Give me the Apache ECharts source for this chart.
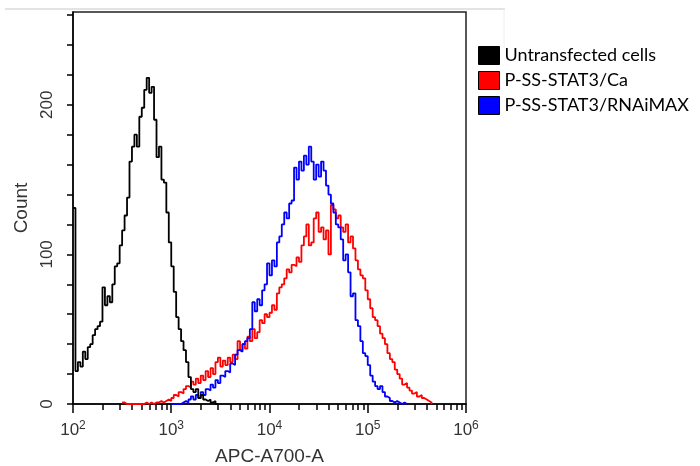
<!DOCTYPE html>
<html><head><meta charset="utf-8">
<script src="https://cdn.jsdelivr.net/npm/echarts@6/dist/echarts.min.js"></script>
<style>html,body{margin:0;padding:0;background:#fff}#c{width:700px;height:466px}</style>
</head><body><div id="c"></div>
<script>
// histogram bins: width in decades, start exponent of first bin, counts
const binStep = 0.025;
const blackStart = 2.0;
const blackCounts = [131,22,28,25,35,30,38,40,46,50,52,55,78,66,72,68,80,92,94,106,116,126,138,162,172,180,172,192,198,210,218,208,212,190,165,172,150,148,128,108,92,75,58,50,42,36,28,18,10,8,10,4,6,3,2,3,1,2,0,0];
const redStart = 2.5;
const redCounts = [1,0,0,0,0,0,0,0,0,1,0,1,0,1,1,2,1,2,3,2,4,6,5,8,7,10,12,11,15,13,17,14,19,16,22,18,24,20,28,31,25,29,26,31,28,33,30,42,36,40,37,45,42,50,44,48,56,54,60,58,61,66,63,74,78,80,84,90,88,93,92,98,95,106,112,120,106,108,124,128,115,118,110,116,100,133,130,124,126,118,115,120,108,112,104,96,90,86,84,76,70,64,58,56,52,47,44,40,34,30,28,23,20,17,13,14,11,9,7,8,5,6,4,3,2,1,0];
const blueStart = 3.0;
const blueCounts = [0,0,0,0,1,2,1,3,5,3,6,4,8,6,10,9,13,11,16,14,19,18,22,21,27,26,33,36,35,40,42,44,50,68,62,70,66,76,80,94,86,96,92,108,112,120,128,124,134,136,158,150,162,156,166,160,172,162,150,160,152,162,156,146,140,134,128,120,118,110,96,100,88,72,74,56,52,42,34,32,26,19,15,12,10,12,8,5,4,2,1,2,1,0,1,0,0];
const seriesNames = ['Untransfected cells', 'P-SS-STAT3/Ca', 'P-SS-STAT3/RNAiMAX'];
const seriesColors = ['#000000', '#ff0000', '#0000ff'];
const xMajorTicks = [100, 1000, 10000, 100000, 1000000];
const xMinorTicks = [200,300,400,500,600,700,800,900,2000,3000,4000,5000,6000,7000,8000,9000,20000,30000,40000,50000,60000,70000,80000,90000,200000,300000,400000,500000,600000,700000,800000,900000];
const yTicks = [0,20,40,60,80,100,120,140,160,180,200,220,240,260];
const yLabels = [0, 100, 200];

function toPairs(start, counts) {
  return counts.map((c, i) => [Math.pow(10, start + i * binStep), c]);
}
const supDigits = v => Math.round(Math.log10(v));

const chart = echarts.init(document.getElementById('c'), null, {renderer: 'canvas'});
const mkSeries = (name, color, data, z) => ({
  name, type: 'line', step: 'end', data, showSymbol: false, symbol: 'none',
  lineStyle: {color, width: 1.8}, itemStyle: {color}, z, animation: false,
  xAxisIndex: 0, yAxisIndex: 0
});
chart.setOption({
  animation: false,
  backgroundColor: '#fff',
  grid: {left: 73, right: 234, top: 12, bottom: 62, show: true, borderColor: '#222', borderWidth: 1.5, containLabel: false, outerBoundsMode: 'none'},
  legend: {
    orient: 'vertical', left: 478, top: 46, padding: 0, icon: 'rect', itemWidth: 21, itemHeight: 18, itemGap: 6,
    itemStyle: {borderColor: '#000', borderWidth: 1},
    textStyle: {fontFamily: 'Lato', fontSize: 18, color: '#000'},
    data: seriesNames, selectedMode: false
  },
  xAxis: [{
    type: 'log', logBase: 10, min: 100, max: 1000000, position: 'bottom',
    name: 'APC-A700-A', nameLocation: 'middle', nameGap: 43,
    nameTextStyle: {fontFamily: 'Liberation Sans', fontSize: 19, color: '#333'},
    axisLine: {show: true, lineStyle: {color: '#000', width: 1.5}},
    axisTick: {show: true, inside: false, length: 9, lineStyle: {color: '#000', width: 1.5}, customValues: xMajorTicks},
    axisLabel: {
      customValues: xMajorTicks, margin: 16,
      formatter: v => '{b|10}{s|' + supDigits(v) + '}',
      rich: {
        b: {fontFamily: 'Liberation Sans', fontSize: 17, color: '#333', lineHeight: 20},
        s: {fontFamily: 'Liberation Sans', fontSize: 12, color: '#333', lineHeight: 12, verticalAlign: 'top'}
      }
    },
    splitLine: {show: false}, minorTick: {show: false}
  }, {
    type: 'log', logBase: 10, min: 100, max: 1000000, position: 'bottom',
    axisLine: {show: false},
    axisTick: {show: true, inside: false, length: 6, lineStyle: {color: '#000', width: 1.5}, customValues: xMinorTicks},
    axisLabel: {show: false}, splitLine: {show: false}
  }],
  yAxis: {
    type: 'value', min: 0, max: 262,
    name: 'Count', nameLocation: 'middle', nameGap: 36, nameRotate: 90,
    nameTextStyle: {fontFamily: 'Liberation Sans', fontSize: 19, color: '#333'},
    axisLine: {show: true, lineStyle: {color: '#000', width: 1.5}},
    axisTick: {show: true, inside: false, length: 6, lineStyle: {color: '#000', width: 1.5}, customValues: yTicks},
    axisLabel: {customValues: yLabels, rotate: 90, margin: 17, fontFamily: 'Liberation Sans', fontSize: 17, color: '#333'},
    splitLine: {show: false}
  },
  graphic: [
    {type: 'line', shape: {x1: 5, y1: 9, x2: 505, y2: 9}, style: {stroke: '#c8c8c8', lineWidth: 1}, silent: true},
    {type: 'line', shape: {x1: 504, y1: 9, x2: 504, y2: 48}, style: {stroke: '#eeeeee', lineWidth: 1}, silent: true}
  ],
  series: [
    mkSeries(seriesNames[1], seriesColors[1], toPairs(redStart, redCounts), 2),
    mkSeries(seriesNames[2], seriesColors[2], toPairs(blueStart, blueCounts), 3),
    mkSeries(seriesNames[0], seriesColors[0], toPairs(blackStart, blackCounts), 4)
  ]
});
</script></body></html>
